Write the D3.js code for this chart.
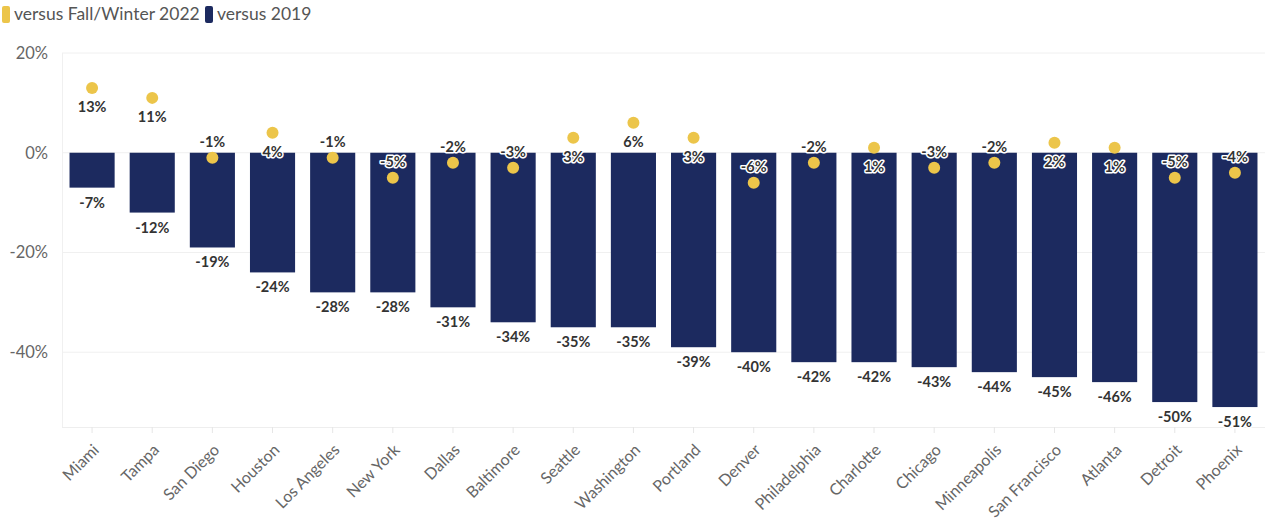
<!DOCTYPE html>
<html>
<head>
<meta charset="utf-8">
<script src="https://cdn.jsdelivr.net/npm/d3@7"></script>
<style>
  html, body { margin: 0; padding: 0; background: #fff; }
  svg { display: block; font-family: Lato, "Noto Sans", sans-serif; }
</style>
</head>
<body>
<svg id="chart" width="1267" height="525"></svg>
<script>
// City office occupancy change, ordered by change versus 2019
const cities = ["Miami", "Tampa", "San Diego", "Houston", "Los Angeles", "New York", "Dallas",
  "Baltimore", "Seattle", "Washington", "Portland", "Denver", "Philadelphia", "Charlotte",
  "Chicago", "Minneapolis", "San Francisco", "Atlanta", "Detroit", "Phoenix"];
const vs2019 = [-7, -12, -19, -24, -28, -28, -31, -34, -35, -35, -39, -40, -42, -42, -43, -44, -45, -46, -50, -51];
const vsFallWinter2022 = [13, 11, -1, 4, -1, -5, -2, -3, 3, 6, 3, -6, -2, 1, -3, -2, 2, 1, -5, -4];
const yTicks = [20, 0, -20, -40];
const seriesNames = ["versus Fall/Winter 2022", "versus 2019"];

const navy = "#1c2a5f";
const gold = "#ecc54a";

const svg = d3.select("#chart");
const margin = { top: 53, right: 2, bottom: 98, left: 62 };
const width = 1267 - margin.left - margin.right;
const height = 525 - margin.top - margin.bottom;

const x = d3.scaleBand().domain(cities).range([0, width]).paddingInner(0.25).paddingOuter(0.125);
const y = d3.scaleLinear().domain([-55, 20]).range([height, 0]);

const g = svg.append("g").attr("transform", `translate(${margin.left},${margin.top})`);

// Gridlines
g.append("g").selectAll("line").data(yTicks).join("line")
  .attr("x1", 0).attr("x2", width)
  .attr("y1", d => y(d)).attr("y2", d => y(d))
  .attr("stroke", "#f0f0f0").attr("stroke-width", 1);

// Frame: left edge and baseline
g.append("line").attr("x1", 0.5).attr("x2", 0.5).attr("y1", y(20)).attr("y2", height)
  .attr("stroke", "#f0f0f0");
g.append("line").attr("x1", 0).attr("x2", width).attr("y1", height + 0.5).attr("y2", height + 0.5)
  .attr("stroke", "#eeeeee");

// Y axis labels
const yAxis = d3.axisLeft(y).tickValues(yTicks).tickFormat(d => d + "%").tickSize(0).tickPadding(14);
const ya = g.append("g").call(yAxis);
ya.select(".domain").remove();
ya.selectAll("text").attr("fill", "#666").style("font-size", "16.5px")
  .style("font-family", "Lato, 'Noto Sans', sans-serif");

// X axis with rotated city names
const xAxis = d3.axisBottom(x).tickSize(6).tickPadding(6);
const xa = g.append("g").attr("transform", `translate(0,${height})`).call(xAxis);
xa.select(".domain").remove();
xa.selectAll(".tick line").attr("stroke", "#e6e6e6");
xa.selectAll("text")
  .attr("fill", "#666").style("font-size", "16px")
  .style("font-family", "Lato, 'Noto Sans', sans-serif")
  .attr("text-anchor", "end")
  .attr("x", 0).attr("y", 0).attr("dy", "0.35em")
  .attr("transform", "translate(4,20) rotate(-45)");

// Bars: change versus 2019
g.append("g").selectAll("rect").data(cities).join("rect")
  .attr("x", d => x(d))
  .attr("width", x.bandwidth())
  .attr("y", (d, i) => y(Math.max(0, vs2019[i])))
  .attr("height", (d, i) => Math.abs(y(vs2019[i]) - y(0)))
  .attr("fill", navy);

// Value labels with a white halo
const labelStyle = sel => sel
  .attr("text-anchor", "middle")
  .attr("fill", "#333")
  .attr("stroke", "#fff").attr("stroke-width", 3).attr("paint-order", "stroke")
  .attr("stroke-linejoin", "round")
  .style("font-size", "14.5px").style("font-weight", "bold");

g.append("g").selectAll("text").data(cities).join("text")
  .attr("x", d => x(d) + x.bandwidth() / 2)
  .attr("y", (d, i) => y(vs2019[i]) + 20)
  .text((d, i) => vs2019[i] + "%")
  .call(labelStyle);

// Dots: change versus Fall/Winter 2022
g.append("g").selectAll("circle").data(cities).join("circle")
  .attr("cx", d => x(d) + x.bandwidth() / 2)
  .attr("cy", (d, i) => y(vsFallWinter2022[i]))
  .attr("r", 6)
  .attr("fill", gold);

g.append("g").selectAll("text").data(cities).join("text")
  .attr("x", d => x(d) + x.bandwidth() / 2)
  .attr("y", (d, i) => vsFallWinter2022[i] >= 0 ? y(vsFallWinter2022[i]) + 24 : y(vsFallWinter2022[i]) - 11)
  .text((d, i) => vsFallWinter2022[i] + "%")
  .call(labelStyle);

// Legend
const legend = svg.append("g").attr("transform", "translate(2,6)");
const legendItems = [
  { name: seriesNames[0], color: gold, x: 0 },
  { name: seriesNames[1], color: navy, x: 203 }
];
const li = legend.selectAll("g").data(legendItems).join("g")
  .attr("transform", d => `translate(${d.x},0)`);
li.append("rect").attr("width", 8).attr("height", 17).attr("rx", 2).attr("fill", d => d.color);
li.append("text").attr("x", 12).attr("y", 14).text(d => d.name)
  .attr("fill", "#555").style("font-size", "17.5px");
</script>
</body>
</html>
